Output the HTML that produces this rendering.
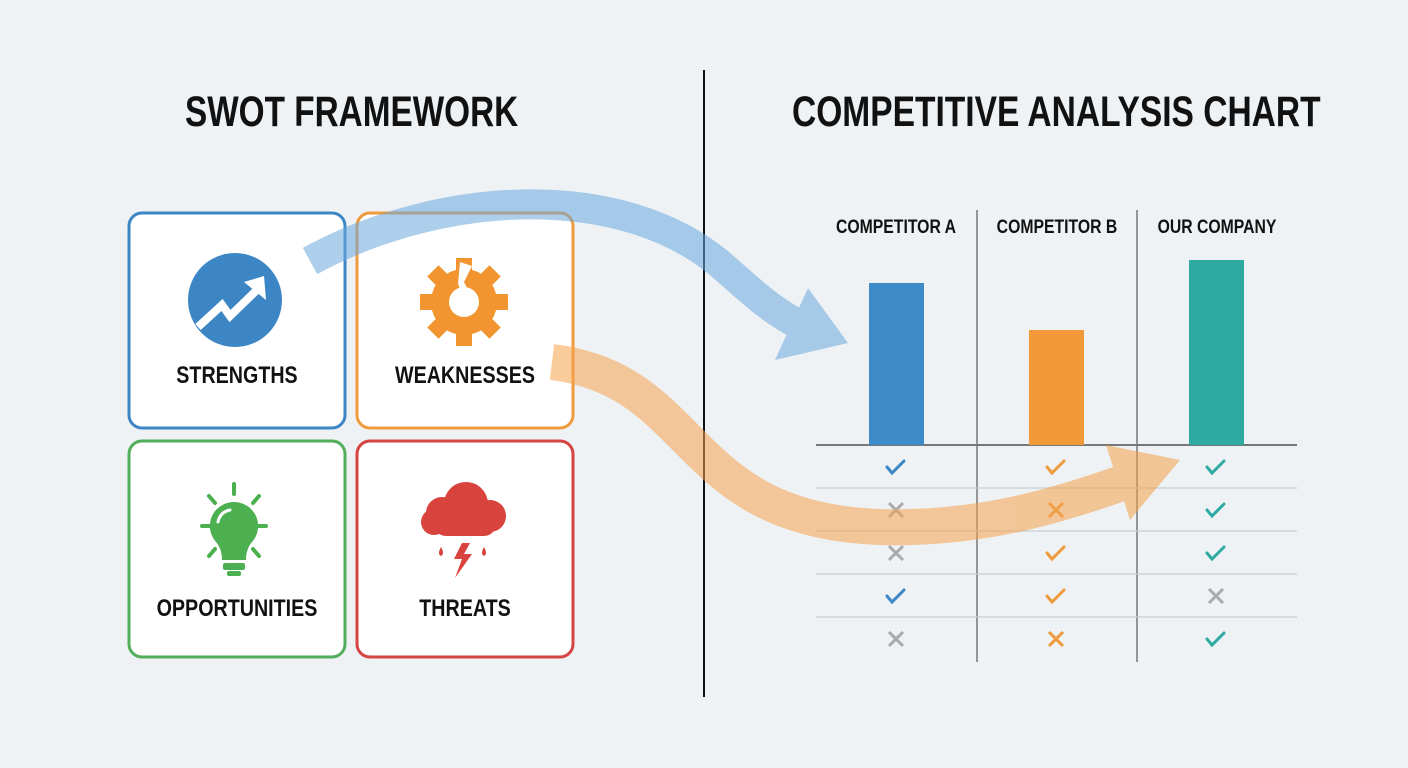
<!DOCTYPE html>
<html><head><meta charset="utf-8"><style>
body{margin:0;width:1408px;height:768px;background:#eef2f5;overflow:hidden;position:relative;font-family:"Liberation Sans Narrow","Liberation Sans",sans-serif;}
.t{position:absolute;font-weight:bold;color:#111;white-space:nowrap;text-align:center;}
</style></head><body>
<svg width="1408" height="768" style="position:absolute;left:0;top:0">
<line x1="704" y1="70" x2="704" y2="697" stroke="#111" stroke-width="2"/>
<rect x="129" y="213" width="216" height="215" rx="13" fill="#fff" stroke="#3d86c6" stroke-width="3"/>
<rect x="357" y="213" width="216" height="215" rx="13" fill="#fff" stroke="#ef9a3c" stroke-width="3"/>
<rect x="129" y="441" width="216" height="216" rx="13" fill="#fff" stroke="#52ae5a" stroke-width="3"/>
<rect x="357" y="441" width="216" height="216" rx="13" fill="#fff" stroke="#d64541" stroke-width="3"/>
<circle cx="235" cy="300" r="47" fill="#3d86c6"/>
<polyline points="198,327 222,305 230,316 262,285" fill="none" stroke="#fff" stroke-width="8" stroke-linejoin="miter"/>
<polygon points="264,276 266,300 244,282" fill="#fff"/>
<g fill="#f2942f" transform="translate(464,302)">
<rect x="-8" y="-44" width="16" height="14"/><rect x="-8" y="30" width="16" height="14"/>
<rect x="-44" y="-8" width="14" height="16"/><rect x="30" y="-8" width="14" height="16"/>
<rect x="-8" y="-44" width="16" height="14" transform="rotate(45)"/><rect x="-8" y="-44" width="16" height="14" transform="rotate(-45)"/>
<rect x="-8" y="30" width="16" height="14" transform="rotate(45)"/><rect x="-8" y="30" width="16" height="14" transform="rotate(-45)"/>
<circle r="33"/>
<circle r="15" fill="#fff"/>
<polygon points="-4,-40 8,-36 0,-20 6,-8 2,0 -6,-18" fill="#fff"/>
</g>
<g stroke="#4caf50" stroke-width="4" stroke-linecap="round">
<line x1="234" y1="484" x2="234" y2="494"/><line x1="202" y1="526" x2="212" y2="526"/><line x1="256" y1="526" x2="266" y2="526"/>
<line x1="209" y1="496" x2="215" y2="503"/><line x1="259" y1="496" x2="253" y2="503"/>
<line x1="209" y1="556" x2="215" y2="549"/><line x1="259" y1="556" x2="253" y2="549"/>
</g>
<path d="M234,502 a24,24 0 0 1 18,40 q-6,7 -6,18 h-24 q0,-11 -6,-18 a24,24 0 0 1 18,-40z" fill="#4caf50"/>
<rect x="223" y="563" width="22" height="7" rx="2" fill="#4caf50"/><rect x="227" y="571" width="14" height="5" rx="2" fill="#4caf50"/>
<path d="M230,510 q-10,2 -12,12" stroke="#fff" stroke-width="3" fill="none" stroke-linecap="round"/>
<g fill="#d9433d">
<circle cx="466" cy="504" r="22"/><circle cx="442" cy="513" r="16"/><circle cx="490" cy="516" r="16"/><circle cx="434" cy="522" r="13"/>
<rect x="434" y="512" width="62" height="24" rx="12"/>
<polygon points="462,543 454,559 462,559 455,578 472,554 464,554 470,543"/>
<path d="M441,547 q-4,7 0,9 q4,-2 0,-9z"/><path d="M484,547 q-4,7 0,9 q4,-2 0,-9z"/>
</g>
<g stroke="#777" stroke-width="1.5">
<line x1="977" y1="210" x2="977" y2="662"/><line x1="1137" y1="210" x2="1137" y2="662"/>
<line x1="816" y1="445" x2="1297" y2="445" stroke-width="2"/>
</g>
<g stroke="#c8cdd2" stroke-width="1.3">
<line x1="816" y1="488" x2="1297" y2="488"/><line x1="816" y1="531" x2="1297" y2="531"/>
<line x1="816" y1="574" x2="1297" y2="574"/><line x1="816" y1="617" x2="1297" y2="617"/>
</g>
<rect x="869" y="283" width="55" height="162" fill="#3d8cc9"/>
<rect x="1029" y="330" width="55" height="115" fill="#f2993a"/>
<rect x="1189" y="260" width="55" height="185" fill="#2eaaa3"/>
<defs>
<path id="ck" d="M-9,0 l5,6 l12,-12" fill="none" stroke-width="3" stroke-linecap="round"/>
<path id="xx" d="M-7,-7 l14,14 M7,-7 l-14,14" fill="none" stroke-width="3"/>
</defs>
<g>
<use href="#ck" x="896" y="467" stroke="#3d86c6"/><use href="#xx" x="896" y="510" stroke="#aaa"/><use href="#xx" x="896" y="553" stroke="#aaa"/><use href="#ck" x="896" y="596" stroke="#3d86c6"/><use href="#xx" x="896" y="639" stroke="#aaa"/>
<use href="#ck" x="1056" y="467" stroke="#f09a3e"/><use href="#xx" x="1056" y="510" stroke="#f09a3e"/><use href="#ck" x="1056" y="553" stroke="#f09a3e"/><use href="#ck" x="1056" y="596" stroke="#f09a3e"/><use href="#xx" x="1056" y="639" stroke="#f09a3e"/>
<use href="#ck" x="1216" y="467" stroke="#2eaaa3"/><use href="#ck" x="1216" y="510" stroke="#2eaaa3"/><use href="#ck" x="1216" y="553" stroke="#2eaaa3"/><use href="#xx" x="1216" y="596" stroke="#aaa"/><use href="#ck" x="1216" y="639" stroke="#2eaaa3"/>
</g>
<g opacity="0.55" fill="#6aa8dc">
<path d="M310,261 C440,190 620,180 720,264 C750,290 770,310 800,325" fill="none" stroke="#6aa8dc" stroke-width="30"/>
<polygon points="848,343 775,360 808,288"/>
</g>
<g opacity="0.55" fill="#f5a24a">
<path d="M552,362 C700,380 680,520 880,527 C980,530 1060,505 1125,482" fill="none" stroke="#f5a24a" stroke-width="36"/>
<polygon points="1180,460 1106,445 1130,520"/>
</g>
</svg>
<div class="t" style="left:140px;top:88px;width:400px;font-size:43px;transform:scaleX(0.775)">SWOT FRAMEWORK</div>
<div class="t" style="left:726px;top:88px;width:600px;font-size:43px;transform:scaleX(0.78)">COMPETITIVE ANALYSIS CHART</div>
<div class="t" style="left:129px;top:362px;width:216px;font-size:24px;transform:scaleX(0.82)">STRENGTHS</div>
<div class="t" style="left:357px;top:362px;width:216px;font-size:24px;transform:scaleX(0.82)">WEAKNESSES</div>
<div class="t" style="left:129px;top:595px;width:216px;font-size:24px;transform:scaleX(0.82)">OPPORTUNITIES</div>
<div class="t" style="left:357px;top:595px;width:216px;font-size:24px;transform:scaleX(0.82)">THREATS</div>
<div class="t" style="left:816px;top:217px;width:160px;font-size:19px;transform:scaleX(0.83)">COMPETITOR A</div>
<div class="t" style="left:977px;top:217px;width:160px;font-size:19px;transform:scaleX(0.83)">COMPETITOR B</div>
<div class="t" style="left:1137px;top:217px;width:160px;font-size:19px;transform:scaleX(0.83)">OUR COMPANY</div>
</body></html>
